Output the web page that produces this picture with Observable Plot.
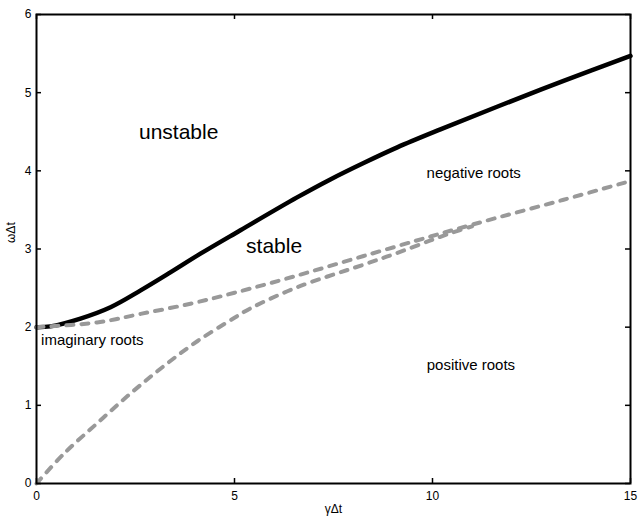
<!DOCTYPE html>
<html>
<head>
<meta charset="utf-8">
<script src="https://cdn.jsdelivr.net/npm/d3@7"></script>
<script src="https://cdn.jsdelivr.net/npm/@observablehq/plot@0.6"></script>
<style>
  html, body { margin: 0; padding: 0; background: white; }
</style>
</head>
<body>
<div id="chart"></div>
<script>
// Stability boundary (solid black)
const boundaryGamma = [0, 0.35, 1.11, 1.87, 2.63, 3.38, 4.14, 5.15, 6.58, 7.42, 8.26, 9.11, 10.2, 11.63, 13.31, 15];
const boundaryOmega = [2.0, 2.01, 2.11, 2.255, 2.47, 2.70, 2.94, 3.24, 3.66, 3.89, 4.10, 4.30, 4.53, 4.82, 5.15, 5.47];

// Upper dashed root-type boundary
const upperGamma = [0, 1.53, 2.63, 3.89, 5.0, 6.58, 8.26, 9.95, 10.5, 11.63, 13.31, 15];
const upperOmega = [2.0, 2.06, 2.17, 2.30, 2.44, 2.66, 2.91, 3.16, 3.24, 3.40, 3.63, 3.87];

// Lower dashed root-type boundary (joins the upper one near γΔt ≈ 10.5)
const lowerGamma = [0, 0.69, 1.53, 2.37, 3.21, 4.06, 5.0, 5.4, 6.58, 8.26, 9.11, 9.95, 10.5, 11.0];
const lowerOmega = [0, 0.38, 0.77, 1.15, 1.50, 1.82, 2.12, 2.24, 2.51, 2.80, 2.95, 3.11, 3.21, 3.29];

// Tick values
const xTicks = [0, 5, 10, 15];
const yTicks = [0, 1, 2, 3, 4, 5, 6];

// Region annotations
const bigLabels = ["unstable", "stable"];
const bigGamma = [3.59, 6.0];
const bigOmega = [4.49, 3.04];
const smallLabels = ["negative roots", "imaginary roots", "positive roots"];
const smallGamma = [11.04, 1.41, 10.97];
const smallOmega = [3.97, 1.83, 1.51];

const toRows = (xs, ys) => xs.map((x, i) => ({x, y: ys[i]}));
const boundary = toRows(boundaryGamma, boundaryOmega);
const upper = toRows(upperGamma, upperOmega);
const lower = toRows(lowerGamma, lowerOmega);
const big = bigLabels.map((t, i) => ({t, x: bigGamma[i], y: bigOmega[i]}));
const small = smallLabels.map((t, i) => ({t, x: smallGamma[i], y: smallOmega[i]}));

const W = 639, H = 519, mL = 36, mR = 9, mT = 14, mB = 36;
const frameW = W - mL - mR, frameH = H - mT - mB;
const tickLen = 5;
const dashGray = "#999999";

const chart = Plot.plot({
  width: W,
  height: H,
  marginLeft: mL,
  marginRight: mR,
  marginTop: mT,
  marginBottom: mB,
  style: {fontFamily: "'Liberation Sans', Arial, Helvetica, sans-serif", fontSize: "12px", background: "white", color: "black"},
  x: {domain: [0, 15]},
  y: {domain: [0, 6]},
  marks: [
    Plot.axisX({ticks: xTicks, tickSize: 0, tickPadding: 8, tickFormat: d => String(d), label: null, fontSize: 12}),
    Plot.axisY({ticks: yTicks, tickSize: 0, tickPadding: 5, tickFormat: d => String(d), label: null, fontSize: 12}),
    // inward ticks on all four sides
    Plot.tickX(xTicks, {x: d => d, insetTop: frameH - tickLen, stroke: "black", strokeWidth: 1.5}),
    Plot.tickX(xTicks, {x: d => d, insetBottom: frameH - tickLen, stroke: "black", strokeWidth: 1.5}),
    Plot.tickY(yTicks, {y: d => d, insetRight: frameW - tickLen, stroke: "black", strokeWidth: 1.5}),
    Plot.tickY(yTicks, {y: d => d, insetLeft: frameW - tickLen, stroke: "black", strokeWidth: 1.5}),
    Plot.line(boundary, {x: "x", y: "y", stroke: "black", strokeWidth: 4.5, curve: "catmull-rom"}),
    Plot.line(upper, {x: "x", y: "y", stroke: dashGray, strokeWidth: 4, strokeDasharray: "7,8", strokeLinecap: "round", curve: "catmull-rom"}),
    Plot.line(lower, {x: "x", y: "y", stroke: dashGray, strokeWidth: 4, strokeDasharray: "7,8", strokeLinecap: "round", curve: "catmull-rom"}),
    Plot.text(big, {x: "x", y: "y", text: "t", fontSize: 21, fill: "black"}),
    Plot.text(small, {x: "x", y: "y", text: "t", fontSize: 15, fill: "black"}),
    Plot.text(["γΔt"], {frameAnchor: "bottom", dy: 29, text: d => d, fontSize: 12, fill: "black"}),
    Plot.text(["ωΔt"], {frameAnchor: "left", dx: -25, dy: -6, rotate: -90, text: d => d, fontSize: 12, fill: "black"}),
    Plot.frame({stroke: "black", strokeWidth: 2})
  ]
});
document.getElementById("chart").appendChild(chart);
</script>
</body>
</html>
